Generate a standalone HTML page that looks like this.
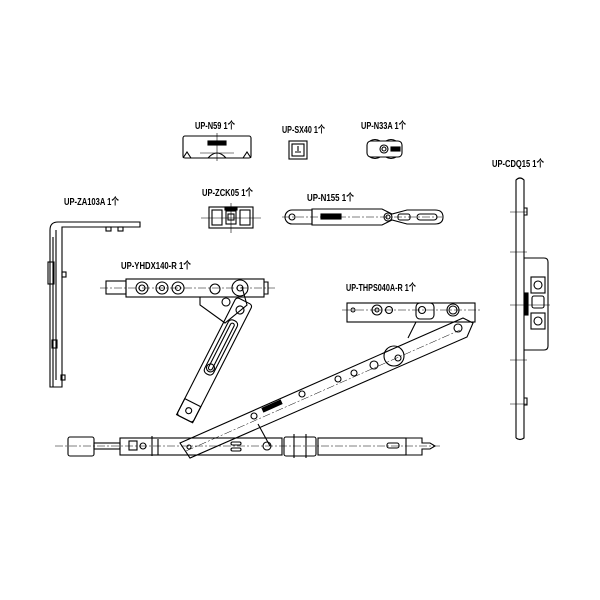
<!DOCTYPE html>
<html><head><meta charset="utf-8"><style>
html,body{margin:0;padding:0;background:#fff;}
svg{display:block}
text{font-family:"Liberation Sans","Noto Sans CJK SC",sans-serif;font-weight:bold;font-size:10px;fill:#000;}
</style></head><body>
<svg width="600" height="600" viewBox="0 0 600 600" xmlns="http://www.w3.org/2000/svg">
<g fill="none" stroke="#000" stroke-width="1.1">
<g stroke="none">
<text x="195" y="129" textLength="40" lengthAdjust="spacingAndGlyphs">UP-N59 1个</text>
<text x="282" y="133" textLength="43" lengthAdjust="spacingAndGlyphs">UP-SX40 1个</text>
<text x="361" y="129" textLength="45" lengthAdjust="spacingAndGlyphs">UP-N33A 1个</text>
<text x="202" y="196" textLength="51" lengthAdjust="spacingAndGlyphs">UP-ZCK05 1个</text>
<text x="307" y="201" textLength="47" lengthAdjust="spacingAndGlyphs">UP-N155 1个</text>
<text x="64" y="205" textLength="55" lengthAdjust="spacingAndGlyphs">UP-ZA103A 1个</text>
<text x="121" y="269" textLength="70" lengthAdjust="spacingAndGlyphs">UP-YHDX140-R 1个</text>
<text x="346" y="291" textLength="70" lengthAdjust="spacingAndGlyphs">UP-THPS040A-R 1个</text>
<text x="492" y="167" textLength="52" lengthAdjust="spacingAndGlyphs">UP-CDQ15 1个</text>
</g>

<!-- N59 -->
<rect x="183" y="136" width="68" height="22" rx="2"/>
<path d="M183 158 l4 -6 l4 6 M251 158 l-4 -6 l-4 6 M208 158 q9 -10 18 0"/>
<rect x="208" y="141" width="18" height="4" fill="#000"/>
<path d="M217 133 v28 M200 153 h34" stroke-width="0.6"/>
<!-- SX40 -->
<rect x="289" y="141" width="18" height="18"/>
<rect x="292" y="144" width="12" height="12"/>
<path d="M298 146 v5 M295 152 h6"/>
<!-- N33A -->
<rect x="367" y="141" width="35" height="16" rx="4"/>
<path d="M370 141 q5 -3 10 0 M386 141 q5 -3 10 0 M370 157 q5 3 10 0 M386 157 q5 3 10 0"/>
<circle cx="384" cy="149" r="4"/><circle cx="384" cy="149" r="2"/>
<rect x="391" y="147" width="9" height="4" fill="#000"/>
<!-- ZCK05 -->
<rect x="209" y="207" width="44" height="21"/>
<rect x="212" y="210" width="10" height="15"/><rect x="240" y="210" width="10" height="15"/>
<rect x="226" y="211" width="10" height="13"/><rect x="228" y="214" width="6" height="6"/>
<rect x="225" y="207" width="12" height="3" fill="#000"/>
<path d="M201 218 h60 M231 203 v30" stroke-width="0.6"/>
<!-- N155 -->
<path d="M292 210 a7 7 0 0 0 0 14 h20 v-14 z"/>
<circle cx="292" cy="217" r="3"/>
<path d="M312 209 h70 l10 5 l15 -4 h28 q8 0 8 7 q0 7 -8 7 h-28 l-15 -4 l-10 5 h-70 z"/>
<rect x="321" y="214" width="20" height="5" fill="#000"/>
<circle cx="388" cy="217" r="4"/><circle cx="388" cy="217" r="2"/>
<rect x="398" y="214" width="12" height="6" rx="2"/>
<rect x="417" y="214" width="20" height="6" rx="3"/>
<path d="M282 217 h160" stroke-width="0.5" stroke-dasharray="8 2 2 2"/>
<!-- ZA103A -->
<path d="M50 387 v-157 q0 -8 8 -8 h82 v5 h-78 v160 z"/>
<path d="M53 387 v-150 M56 230 v150"/>
<rect x="106" y="227" width="5" height="4"/><rect x="118" y="227" width="5" height="4"/>
<rect x="48" y="262" width="6" height="22"/><rect x="62" y="272" width="4" height="5"/>
<rect x="52" y="340" width="5" height="8"/><rect x="61" y="375" width="4" height="5"/>
<!-- YHDX140 -->
<rect x="106" y="281" width="20" height="13"/>
<rect x="126" y="279" width="138" height="18"/>
<path d="M264 282 h4 v12 h-4"/>
<path d="M100 288 h175" stroke-width="0.5" stroke-dasharray="8 2 2 2"/>
<circle cx="142" cy="288" r="6"/><circle cx="142" cy="288" r="3"/>
<circle cx="162" cy="288" r="6"/><circle cx="162" cy="288" r="2.5"/>
<circle cx="178" cy="288" r="6"/><circle cx="178" cy="288" r="2.5"/>
<circle cx="240" cy="288" r="8"/><circle cx="240" cy="288" r="3"/>
<circle cx="215" cy="289" r="5"/>
<path d="M200 297 v8 l25 18 l22 -18 l-5 -18"/>
<circle cx="226" cy="302" r="4"/>
<g transform="rotate(117 240 310)">
<rect x="230" y="301" width="132" height="18" rx="3"/>
<rect x="252" y="305" width="60" height="10" rx="4"/>
<rect x="255" y="308" width="52" height="4" rx="2"/>
<rect x="344" y="301" width="18" height="18"/>
<circle cx="353" cy="310" r="3"/>
<circle cx="240" cy="310" r="4"/>
<circle cx="305" cy="310" r="4"/>
</g>
<!-- CDQ15 -->
<path d="M516 438 v-258 q4 -4 8 0 v258 q-4 3 -8 0"/>
<path d="M524 258 h20 q4 0 4 4 v84 q0 4 -4 4 h-20"/>
<rect x="531" y="277" width="14" height="16"/><circle cx="538" cy="285" r="4"/>
<rect x="531" y="313" width="14" height="16"/><circle cx="538" cy="321" r="4"/>
<rect x="532" y="296" width="12" height="12" rx="2"/>
<rect x="525" y="293" width="3" height="22" fill="#000"/>
<path d="M510 212 h17 M510 252 h17 M510 305 h40 M510 360 h17 M510 404 h17" stroke-width="0.5"/>
<path d="M524 208 h3 v7 h-3 M524 398 h3 v7 h-3"/>
<!-- THPS040 -->
<rect x="347" y="303" width="128" height="19"/>
<path d="M342 310 h140" stroke-width="0.5" stroke-dasharray="8 2 2 2"/>
<circle cx="353" cy="310" r="2"/>
<circle cx="377" cy="310" r="5"/><circle cx="377" cy="310" r="2"/><circle cx="389" cy="310" r="3.5"/>
<rect x="416" y="303" width="18" height="16" rx="4"/><circle cx="422" cy="310" r="3.5"/>
<circle cx="453" cy="310" r="6"/><circle cx="453" cy="310" r="4"/>
<!-- diagonal long arm -->
<path d="M180 443 L413 340 l50 -22 l10 5 l-6 14 L190 458 z"/>
<path d="M186 451 L460 330" stroke-width="0.5" stroke-dasharray="8 2 2 2"/>
<rect x="262" y="404" width="20" height="4" fill="#000" transform="rotate(-24 272 406)"/>
<circle cx="394" cy="356" r="10"/><circle cx="398" cy="358" r="3"/>
<circle cx="374" cy="365" r="4"/><circle cx="354" cy="373" r="3"/><circle cx="338" cy="379" r="3"/>
<circle cx="302" cy="394" r="3"/><circle cx="254" cy="416" r="3"/>
<circle cx="458" cy="328" r="4"/>
<path d="M416 322 l-8 16 M258 424 l12 22"/>
<!-- bottom bar -->
<path d="M55 446 h385" stroke-width="0.5" stroke-dasharray="8 2 2 2"/>
<rect x="68" y="437" width="26" height="19" rx="2"/>
<rect x="94" y="443" width="26" height="6"/>
<rect x="120" y="438" width="162" height="17"/>
<rect x="129" y="441" width="8" height="9"/><circle cx="143" cy="446" r="3"/>
<path d="M152 436 v20 M158 439 v16"/>
<rect x="231" y="442" width="10" height="3" rx="1.5"/><rect x="231" y="448" width="10" height="3" rx="1.5"/>
<circle cx="267" cy="446" r="4"/><circle cx="189" cy="447" r="2"/>
<rect x="284" y="437" width="32" height="19" rx="2"/>
<path d="M294 434 v24 M306 434 v24"/>
<rect x="318" y="438" width="88" height="17"/>
<rect x="387" y="443" width="12" height="5" rx="2"/>
<path d="M406 438 h16 v5 h8 l5 3 l-5 3 h-8 v6 h-16"/>
</g>
</svg>
</body></html>
